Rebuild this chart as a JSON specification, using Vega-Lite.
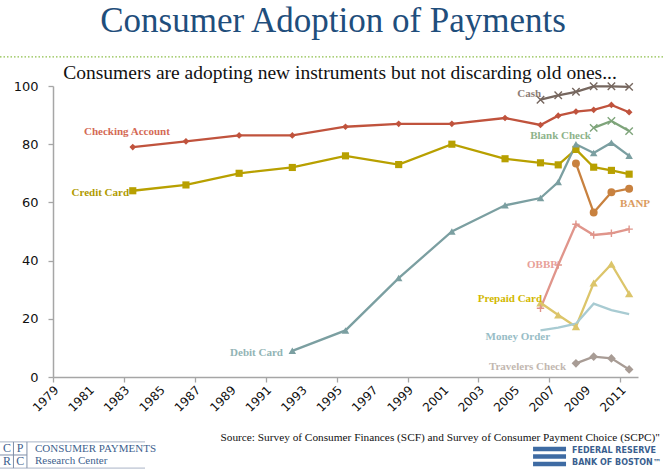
{
  "$schema": "https://vega.github.io/schema/vega-lite/v6.json",
  "width": 585,
  "height": 291,
  "autosize": {"type": "none"},
  "padding": {"left": 53, "top": 86, "right": 26, "bottom": 93},
  "background": "white",
  "config": {"view": {"stroke": null}, "font": "DejaVu Sans"},
  "datasets": {
    "adoption": [
      {"series": "Checking Account", "year": 1983, "value": 79},
      {"series": "Checking Account", "year": 1986, "value": 81},
      {"series": "Checking Account", "year": 1989, "value": 83},
      {"series": "Checking Account", "year": 1992, "value": 83},
      {"series": "Checking Account", "year": 1995, "value": 86},
      {"series": "Checking Account", "year": 1998, "value": 87},
      {"series": "Checking Account", "year": 2001, "value": 87},
      {"series": "Checking Account", "year": 2004, "value": 89},
      {"series": "Checking Account", "year": 2006, "value": 86.6},
      {"series": "Checking Account", "year": 2007, "value": 89.8},
      {"series": "Checking Account", "year": 2008, "value": 91.2},
      {"series": "Checking Account", "year": 2009, "value": 91.8},
      {"series": "Checking Account", "year": 2010, "value": 93.5},
      {"series": "Checking Account", "year": 2011, "value": 91},
      {"series": "Credit Card", "year": 1983, "value": 64},
      {"series": "Credit Card", "year": 1986, "value": 66},
      {"series": "Credit Card", "year": 1989, "value": 70},
      {"series": "Credit Card", "year": 1992, "value": 72},
      {"series": "Credit Card", "year": 1995, "value": 76},
      {"series": "Credit Card", "year": 1998, "value": 73},
      {"series": "Credit Card", "year": 2001, "value": 80},
      {"series": "Credit Card", "year": 2004, "value": 75},
      {"series": "Credit Card", "year": 2006, "value": 73.6},
      {"series": "Credit Card", "year": 2007, "value": 72.9},
      {"series": "Credit Card", "year": 2008, "value": 78.2},
      {"series": "Credit Card", "year": 2009, "value": 72.1},
      {"series": "Credit Card", "year": 2010, "value": 71},
      {"series": "Credit Card", "year": 2011, "value": 69.7},
      {"series": "Debit Card", "year": 1992, "value": 9},
      {"series": "Debit Card", "year": 1995, "value": 16},
      {"series": "Debit Card", "year": 1998, "value": 34},
      {"series": "Debit Card", "year": 2001, "value": 50},
      {"series": "Debit Card", "year": 2004, "value": 59},
      {"series": "Debit Card", "year": 2006, "value": 61.5},
      {"series": "Debit Card", "year": 2007, "value": 67},
      {"series": "Debit Card", "year": 2008, "value": 80},
      {"series": "Debit Card", "year": 2009, "value": 77},
      {"series": "Debit Card", "year": 2010, "value": 80.5},
      {"series": "Debit Card", "year": 2011, "value": 76},
      {"series": "Cash", "year": 2006, "value": 95.3},
      {"series": "Cash", "year": 2007, "value": 96.8},
      {"series": "Cash", "year": 2008, "value": 98},
      {"series": "Cash", "year": 2009, "value": 99.9},
      {"series": "Cash", "year": 2010, "value": 99.9},
      {"series": "Cash", "year": 2011, "value": 99.7},
      {"series": "Blank Check", "year": 2009, "value": 85.6},
      {"series": "Blank Check", "year": 2010, "value": 88},
      {"series": "Blank Check", "year": 2011, "value": 84.5},
      {"series": "BANP", "year": 2008, "value": 73.4},
      {"series": "BANP", "year": 2009, "value": 56.5},
      {"series": "BANP", "year": 2010, "value": 63.5},
      {"series": "BANP", "year": 2011, "value": 64.7},
      {"series": "OBBP", "year": 2006, "value": 23.6},
      {"series": "OBBP", "year": 2007, "value": 38.5},
      {"series": "OBBP", "year": 2008, "value": 52.5},
      {"series": "OBBP", "year": 2009, "value": 48.8},
      {"series": "OBBP", "year": 2010, "value": 49.4},
      {"series": "OBBP", "year": 2011, "value": 50.8},
      {"series": "Prepaid Card", "year": 2006, "value": 25.5},
      {"series": "Prepaid Card", "year": 2007, "value": 21.3},
      {"series": "Prepaid Card", "year": 2008, "value": 17.3},
      {"series": "Prepaid Card", "year": 2009, "value": 32.3},
      {"series": "Prepaid Card", "year": 2010, "value": 38.8},
      {"series": "Prepaid Card", "year": 2011, "value": 28.6},
      {"series": "Money Order", "year": 2006, "value": 16},
      {"series": "Money Order", "year": 2007, "value": 17},
      {"series": "Money Order", "year": 2008, "value": 18.3},
      {"series": "Money Order", "year": 2009, "value": 25.2},
      {"series": "Money Order", "year": 2010, "value": 23},
      {"series": "Money Order", "year": 2011, "value": 21.6},
      {"series": "Travelers Check", "year": 2008, "value": 4.7},
      {"series": "Travelers Check", "year": 2009, "value": 7},
      {"series": "Travelers Check", "year": 2010, "value": 6.4},
      {"series": "Travelers Check", "year": 2011, "value": 2.6}
    ],
    "labels": [
      {"series": "Checking Account", "year": 1983.17, "value": 84.2},
      {"series": "Credit Card", "year": 1983.29, "value": 63.2},
      {"series": "Debit Card", "year": 1991.97, "value": 8.25},
      {"series": "Cash", "year": 2006.53, "value": 97.25},
      {"series": "Blank Check", "year": 2007.63, "value": 82.8},
      {"series": "BANP", "year": 2010.99, "value": 59.45},
      {"series": "OBBP", "year": 2007.43, "value": 38.5},
      {"series": "Prepaid Card", "year": 2006.59, "value": 26.8},
      {"series": "Money Order", "year": 2007.04, "value": 13.75},
      {"series": "Travelers Check", "year": 2007.94, "value": 3.44}
    ],
    "ticks": [
      {"year": 1979}, {"year": 1981}, {"year": 1983}, {"year": 1985}, {"year": 1987}, {"year": 1989},
      {"year": 1991}, {"year": 1993}, {"year": 1995}, {"year": 1997}, {"year": 1999}, {"year": 2001},
      {"year": 2003}, {"year": 2005}, {"year": 2007}, {"year": 2009}, {"year": 2011}
    ],
    "one": [{}]
  },
  "resolve": {"scale": {"color": "independent", "shape": "independent", "size": "independent"}},
  "layer": [
    {
      "data": {"name": "adoption"},
      "mark": {"type": "line", "strokeWidth": 2.3, "xOffset": 8.86},
      "encoding": {
        "x": {
          "field": "year", "type": "quantitative", "title": null,
          "scale": {"domain": [1979, 2012], "nice": false, "zero": false},
          "axis": {
            "values": [1979, 1981, 1983, 1985, 1987, 1989, 1991, 1993, 1995, 1997, 1999, 2001, 2003, 2005, 2007, 2009, 2011],
            "labels": false,
            "tickSize": 5,
            "tickColor": "#A6A6A6",
            "tickWidth": 1.3,
            "domainColor": "#A6A6A6",
            "domainWidth": 1.5,
            "grid": false
          }
        },
        "y": {
          "field": "value", "type": "quantitative", "title": null,
          "scale": {"domain": [0, 100], "nice": false},
          "axis": {
            "values": [0, 10, 20, 30, 40, 50, 60, 70, 80, 90, 100],
            "labelFont": "DejaVu Sans",
            "labelFontSize": 13,
            "labelColor": "#111111",
            "labelPadding": 10,
            "tickSize": 5,
            "tickColor": "#A6A6A6",
            "tickWidth": 1.3,
            "domainColor": "#A6A6A6",
            "domainWidth": 1.5,
            "grid": false,
            "labelOverlap": false,
            "labelFlush": false
          }
        },
        "color": {
          "field": "series", "type": "nominal", "legend": null,
          "scale": {
            "domain": ["Checking Account", "Credit Card", "Debit Card", "Cash", "Blank Check", "BANP", "OBBP", "Prepaid Card", "Money Order", "Travelers Check"],
            "range": ["#C0533D", "#B8A000", "#7B9FA1", "#76675F", "#7EA47A", "#C8813F", "#E0958B", "#DCC56A", "#A8CBD2", "#A89C95"]
          }
        }
      }
    },
    {
      "data": {"name": "ticks"},
      "mark": {"type": "text", "angle": 315, "align": "right", "baseline": "top", "font": "DejaVu Sans", "fontSize": 12, "color": "#111111"},
      "encoding": {
        "x": {"field": "year", "type": "quantitative", "title": null},
        "y": {"datum": -2.6, "type": "quantitative", "title": null},
        "text": {"field": "year", "type": "quantitative", "format": "d"}
      }
    },
    {
      "data": {"name": "adoption"},
      "transform": [{"filter": {"field": "series", "oneOf": ["Checking Account", "Credit Card", "Debit Card", "BANP", "Prepaid Card", "Travelers Check"]}}],
      "mark": {"type": "point", "filled": true, "opacity": 1, "xOffset": 8.86},
      "encoding": {
        "x": {"field": "year", "type": "quantitative", "title": null},
        "y": {"field": "value", "type": "quantitative", "title": null},
        "color": {
          "field": "series", "type": "nominal", "legend": null,
          "scale": {
            "domain": ["Checking Account", "Credit Card", "Debit Card", "BANP", "Prepaid Card", "Travelers Check"],
            "range": ["#C0533D", "#B8A000", "#7B9FA1", "#C8813F", "#DCC56A", "#A89C95"]
          }
        },
        "shape": {
          "field": "series", "type": "nominal", "legend": null,
          "scale": {
            "domain": ["Checking Account", "Credit Card", "Debit Card", "BANP", "Prepaid Card", "Travelers Check"],
            "range": ["diamond", "square", "triangle-up", "circle", "triangle-up", "diamond"]
          }
        },
        "size": {
          "field": "series", "type": "nominal", "legend": null,
          "scale": {
            "domain": ["Checking Account", "Credit Card", "Debit Card", "BANP", "Prepaid Card", "Travelers Check"],
            "range": [45, 75, 55, 60, 18, 45]
          }
        }
      }
    },
    {
      "data": {"name": "adoption"},
      "transform": [{"filter": {"field": "series", "oneOf": ["Cash", "Blank Check", "OBBP"]}}],
      "mark": {"type": "point", "filled": false, "opacity": 1, "strokeWidth": 1.4, "xOffset": 8.86},
      "encoding": {
        "x": {"field": "year", "type": "quantitative", "title": null},
        "y": {"field": "value", "type": "quantitative", "title": null},
        "color": {
          "field": "series", "type": "nominal", "legend": null,
          "scale": {"domain": ["Cash", "Blank Check", "OBBP"], "range": ["#76675F", "#7EA47A", "#E0958B"]}
        },
        "shape": {
          "field": "series", "type": "nominal", "legend": null,
          "scale": {"domain": ["Cash", "Blank Check", "OBBP"], "range": ["M-1,-1L1,1M-1,1L1,-1", "M-1,-1L1,1M-1,1L1,-1", "M-1,0L1,0M0,-1L0,1"]}
        },
        "size": {"value": 55}
      }
    },
    {
      "data": {"name": "labels"},
      "transform": [{"filter": {"field": "series", "oneOf": ["Checking Account", "Blank Check"]}}],
      "mark": {"type": "text", "align": "center", "baseline": "middle", "font": "Liberation Serif", "fontSize": 11, "fontWeight": "bold"},
      "encoding": {
        "x": {"field": "year", "type": "quantitative", "title": null},
        "y": {"field": "value", "type": "quantitative", "title": null},
        "text": {"field": "series"},
        "color": {
          "field": "series", "type": "nominal", "legend": null,
          "scale": {"domain": ["Checking Account", "Blank Check"], "range": ["#D46A55", "#8DB38A"]}
        }
      }
    },
    {
      "data": {"name": "labels"},
      "transform": [{"filter": {"field": "series", "oneOf": ["Credit Card", "Debit Card", "Cash", "OBBP", "Prepaid Card", "Money Order", "Travelers Check"]}}],
      "mark": {"type": "text", "align": "right", "baseline": "middle", "font": "Liberation Serif", "fontSize": 11, "fontWeight": "bold"},
      "encoding": {
        "x": {"field": "year", "type": "quantitative", "title": null},
        "y": {"field": "value", "type": "quantitative", "title": null},
        "text": {"field": "series"},
        "color": {
          "field": "series", "type": "nominal", "legend": null,
          "scale": {
            "domain": ["Credit Card", "Debit Card", "Cash", "OBBP", "Prepaid Card", "Money Order", "Travelers Check"],
            "range": ["#B09A00", "#92B4B5", "#8C7D76", "#E8A099", "#D2B800", "#98BDC6", "#C2B7B0"]
          }
        }
      }
    },
    {
      "data": {"name": "labels"},
      "transform": [{"filter": {"field": "series", "oneOf": ["BANP"]}}],
      "mark": {"type": "text", "align": "left", "baseline": "middle", "font": "Liberation Serif", "fontSize": 11, "fontWeight": "bold", "color": "#DA9A60"},
      "encoding": {
        "x": {"field": "year", "type": "quantitative", "title": null},
        "y": {"field": "value", "type": "quantitative", "title": null},
        "text": {"field": "series"}
      }
    },
    {
      "data": {"name": "one"},
      "mark": {"type": "text", "align": "center", "baseline": "middle", "font": "Liberation Serif", "fontSize": 35, "color": "#1F4E7C"},
      "encoding": {
        "x": {"datum": 1994.8, "type": "quantitative", "title": null},
        "y": {"datum": 122.3, "type": "quantitative", "title": null},
        "text": {"value": "Consumer Adoption of Payments"}
      }
    },
    {
      "data": {"name": "one"},
      "mark": {"type": "text", "align": "center", "baseline": "middle", "font": "Liberation Serif", "fontSize": 19.5, "color": "#111111"},
      "encoding": {
        "x": {"datum": 1995.19, "type": "quantitative", "title": null},
        "y": {"datum": 104.5, "type": "quantitative", "title": null},
        "text": {"value": "Consumers are adopting new instruments but not discarding old ones..."}
      }
    },
    {
      "data": {"name": "one"},
      "mark": {"type": "rule", "color": "#8DBF4A", "strokeWidth": 1.2, "strokeDash": [1.5, 2]},
      "encoding": {
        "x": {"datum": 1976.01, "type": "quantitative", "title": null},
        "x2": {"datum": 2013.47},
        "y": {"datum": 110, "type": "quantitative", "title": null}
      }
    },
    {
      "data": {"name": "one"},
      "mark": {"type": "text", "align": "right", "baseline": "alphabetic", "font": "Liberation Serif", "fontSize": 11.3, "color": "#111111"},
      "encoding": {
        "x": {"datum": 2013.24, "type": "quantitative", "title": null},
        "y": {"datum": -22.0, "type": "quantitative", "title": null},
        "text": {"value": "Source: Survey of Consumer Finances (SCF) and Survey of Consumer Payment Choice (SCPC)\""}
      }
    },
    {
      "data": {"name": "one"},
      "mark": {"type": "rule", "color": "#A9B4C6", "strokeWidth": 1},
      "encoding": {
        "x": {"datum": 1976.01, "type": "quantitative", "title": null},
        "x2": {"datum": 1984.19},
        "y": {"datum": -22.3, "type": "quantitative", "title": null}
      }
    },
    {
      "data": {"name": "one"},
      "mark": {"type": "rule", "color": "#A9B4C6", "strokeWidth": 1},
      "encoding": {
        "x": {"datum": 1976.01, "type": "quantitative", "title": null},
        "x2": {"datum": 1984.19},
        "y": {"datum": -31.3, "type": "quantitative", "title": null}
      }
    },
    {
      "data": {"name": "one"},
      "mark": {"type": "rule", "color": "#7F8FA8", "strokeWidth": 1},
      "encoding": {
        "x": {"datum": 1976.01, "type": "quantitative", "title": null},
        "x2": {"datum": 1977.53},
        "y": {"datum": -26.8, "type": "quantitative", "title": null}
      }
    },
    {
      "data": {"name": "one"},
      "mark": {"type": "rule", "color": "#7F8FA8", "strokeWidth": 1},
      "encoding": {
        "x": {"datum": 1976.77, "type": "quantitative", "title": null},
        "y": {"datum": -22.3, "type": "quantitative", "title": null},
        "y2": {"datum": -31.3}
      }
    },
    {
      "data": {"name": "one"},
      "mark": {"type": "rule", "color": "#7F8FA8", "strokeWidth": 1},
      "encoding": {
        "x": {"datum": 1977.53, "type": "quantitative", "title": null},
        "y": {"datum": -22.3, "type": "quantitative", "title": null},
        "y2": {"datum": -31.3}
      }
    },
    {
      "data": {"name": "one"},
      "mark": {"type": "text", "align": "center", "baseline": "middle", "font": "Liberation Serif", "fontSize": 12, "color": "#3E5F8E"},
      "encoding": {
        "x": {"datum": 1976.4, "type": "quantitative", "title": null},
        "y": {"datum": -24.5, "type": "quantitative", "title": null},
        "text": {"value": "C"}
      }
    },
    {
      "data": {"name": "one"},
      "mark": {"type": "text", "align": "center", "baseline": "middle", "font": "Liberation Serif", "fontSize": 12, "color": "#3E5F8E"},
      "encoding": {
        "x": {"datum": 1977.15, "type": "quantitative", "title": null},
        "y": {"datum": -24.5, "type": "quantitative", "title": null},
        "text": {"value": "P"}
      }
    },
    {
      "data": {"name": "one"},
      "mark": {"type": "text", "align": "center", "baseline": "middle", "font": "Liberation Serif", "fontSize": 12, "color": "#3E5F8E"},
      "encoding": {
        "x": {"datum": 1976.4, "type": "quantitative", "title": null},
        "y": {"datum": -29.0, "type": "quantitative", "title": null},
        "text": {"value": "R"}
      }
    },
    {
      "data": {"name": "one"},
      "mark": {"type": "text", "align": "center", "baseline": "middle", "font": "Liberation Serif", "fontSize": 12, "color": "#3E5F8E"},
      "encoding": {
        "x": {"datum": 1977.15, "type": "quantitative", "title": null},
        "y": {"datum": -29.0, "type": "quantitative", "title": null},
        "text": {"value": "C"}
      }
    },
    {
      "data": {"name": "one"},
      "mark": {"type": "text", "align": "left", "baseline": "middle", "font": "Liberation Serif", "fontSize": 11, "color": "#3E5F8E"},
      "encoding": {
        "x": {"datum": 1977.98, "type": "quantitative", "title": null},
        "y": {"datum": -24.6, "type": "quantitative", "title": null},
        "text": {"value": "CONSUMER PAYMENTS"}
      }
    },
    {
      "data": {"name": "one"},
      "mark": {"type": "text", "align": "left", "baseline": "middle", "font": "Liberation Serif", "fontSize": 11, "color": "#3E5F8E"},
      "encoding": {
        "x": {"datum": 1977.98, "type": "quantitative", "title": null},
        "y": {"datum": -28.9, "type": "quantitative", "title": null},
        "text": {"value": "Research Center"}
      }
    },
    {
      "data": {"name": "one"},
      "mark": {"type": "rule", "color": "#3E6BA3", "strokeWidth": 4.5},
      "encoding": {
        "x": {"datum": 2006.08, "type": "quantitative", "title": null},
        "x2": {"datum": 2007.94},
        "y": {"datum": -24.7, "type": "quantitative", "title": null}
      }
    },
    {
      "data": {"name": "one"},
      "mark": {"type": "rule", "color": "#3E6BA3", "strokeWidth": 4.5},
      "encoding": {
        "x": {"datum": 2006.08, "type": "quantitative", "title": null},
        "x2": {"datum": 2007.94},
        "y": {"datum": -27.3, "type": "quantitative", "title": null}
      }
    },
    {
      "data": {"name": "one"},
      "mark": {"type": "rule", "color": "#3E6BA3", "strokeWidth": 4.5},
      "encoding": {
        "x": {"datum": 2006.08, "type": "quantitative", "title": null},
        "x2": {"datum": 2007.94},
        "y": {"datum": -29.9, "type": "quantitative", "title": null}
      }
    },
    {
      "data": {"name": "one"},
      "mark": {"type": "text", "align": "left", "baseline": "middle", "font": "DejaVu Sans", "fontSize": 8, "fontWeight": "bold", "color": "#3B5F8F"},
      "encoding": {
        "x": {"datum": 2008.28, "type": "quantitative", "title": null},
        "y": {"datum": -25.4, "type": "quantitative", "title": null},
        "text": {"value": "FEDERAL RESERVE"}
      }
    },
    {
      "data": {"name": "one"},
      "mark": {"type": "text", "align": "left", "baseline": "middle", "font": "DejaVu Sans", "fontSize": 8, "fontWeight": "bold", "color": "#3B5F8F"},
      "encoding": {
        "x": {"datum": 2008.28, "type": "quantitative", "title": null},
        "y": {"datum": -29.5, "type": "quantitative", "title": null},
        "text": {"value": "BANK OF BOSTON™"}
      }
    }
  ]
}
